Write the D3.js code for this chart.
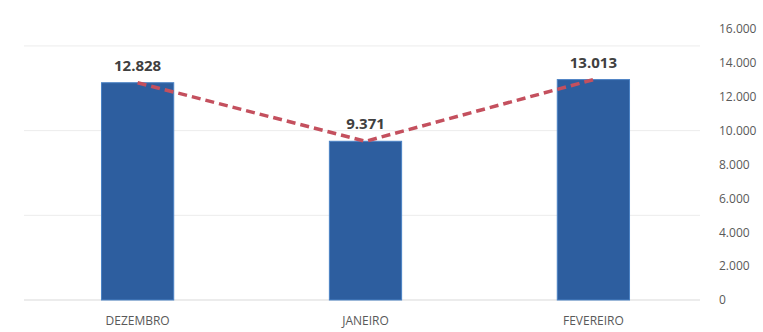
<!DOCTYPE html>
<html><head><meta charset="utf-8">
<script src="https://cdn.jsdelivr.net/npm/d3@7"></script>
<style>body{margin:0;background:#fff}svg{display:block}</style>
</head><body>
<svg id="c" width="763" height="332"></svg>
<script>
const categories = ["DEZEMBRO", "JANEIRO", "FEVEREIRO"];
const values = [12828, 9371, 13013];
const valueLabels = ["12.828", "9.371", "13.013"];
const tickValues = [0, 2000, 4000, 6000, 8000, 10000, 12000, 14000, 16000];
const gridValues = [0, 5000, 10000, 15000];

const svg = d3.select("#c");
const W = 763, H = 332;
const x = d3.scaleBand().domain(categories).range([24, 707]).paddingInner(0.683).paddingOuter(0.34);
const y = d3.scaleLinear().domain([0, 16000]).range([300, 29]);

svg.append("g").selectAll("line").data(gridValues).join("line")
  .attr("x1", 24).attr("x2", 700)
  .attr("y1", d => y(d)).attr("y2", d => y(d))
  .attr("stroke", d => d === 0 ? "#d9d9d9" : "#ececec").attr("stroke-width", 1);

const axis = d3.axisRight(y).tickValues(tickValues)
  .tickFormat(d => d3.format(",")(d).replace(/,/g, ".")).tickSize(0).tickPadding(0);
const ag = svg.append("g").attr("transform", "translate(719,0)").call(axis);
ag.select(".domain").remove();
ag.selectAll("text").attr("font-family", "'Open Sans', sans-serif").attr("font-size", 12).attr("fill", "#595959");

svg.append("g").selectAll("rect").data(values).join("rect")
  .attr("x", (d, i) => x(categories[i])).attr("width", x.bandwidth())
  .attr("y", d => y(d)).attr("height", d => y(0) - y(d))
  .attr("fill", "#2d5e9f").attr("stroke", "#4b82c4").attr("stroke-width", 1);

const line = d3.line().x((d, i) => x(categories[i]) + x.bandwidth() / 2).y(d => y(d));
svg.append("path").datum(values).attr("d", line)
  .attr("fill", "none").attr("stroke", "#c4505e").attr("stroke-width", 3.5)
  .attr("stroke-dasharray", "9,5");

svg.append("g").selectAll("text").data(values).join("text")
  .attr("x", (d, i) => x(categories[i]) + x.bandwidth() / 2)
  .attr("y", d => y(d) - 12)
  .attr("text-anchor", "middle").attr("font-family", "'Open Sans', sans-serif")
  .attr("font-weight", "bold").attr("font-size", 15).attr("fill", "#404040")
  .text((d, i) => valueLabels[i]);

svg.append("g").selectAll("text").data(categories).join("text")
  .attr("x", d => x(d) + x.bandwidth() / 2).attr("y", 325)
  .attr("text-anchor", "middle").attr("font-family", "'Open Sans', sans-serif")
  .attr("font-size", 12).attr("fill", "#595959").text(d => d);
</script>
</body></html>
